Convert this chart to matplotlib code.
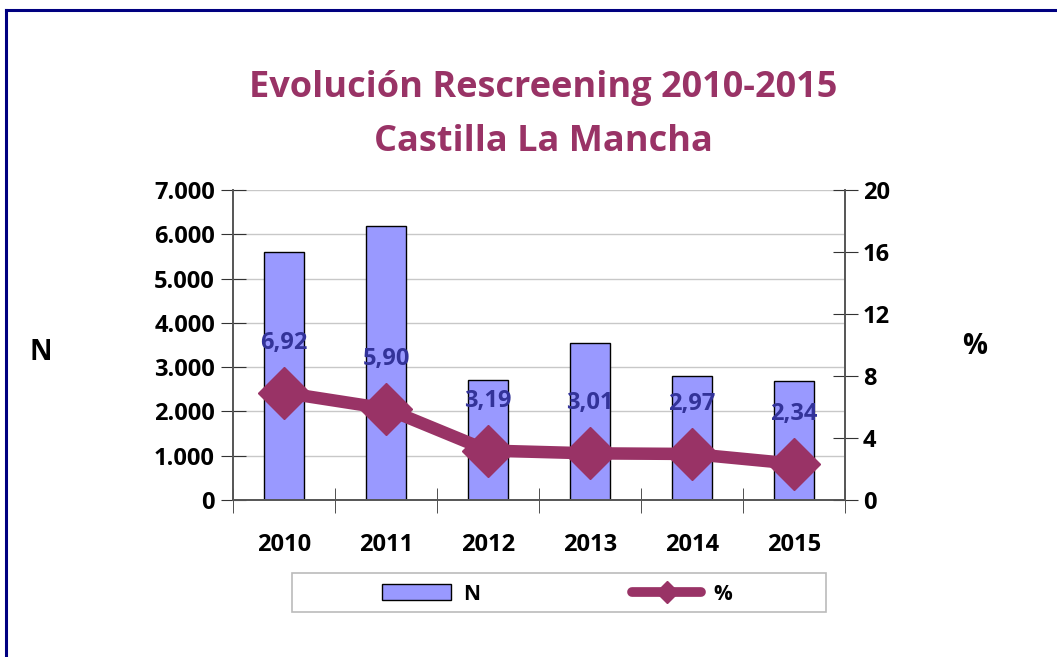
import numpy as np
import matplotlib
matplotlib.use("Agg")
import matplotlib.pyplot as plt
from matplotlib.ticker import FuncFormatter
from matplotlib.lines import Line2D
from matplotlib.patches import Rectangle

years = ["2010", "2011", "2012", "2013", "2014", "2015"]
n_values = [5600, 6190, 2710, 3550, 2800, 2690]
pct_values = [6.92, 5.90, 3.19, 3.01, 2.97, 2.34]
pct_labels = ["6,92", "5,90", "3,19", "3,01", "2,97", "2,34"]

plt.rcParams['font.family'] = ['Open Sans', 'DejaVu Sans']
plt.rcParams['font.weight'] = 'bold'

bar_color = '#9999FF'
line_color = '#993366'
label_color = '#333399'

W, H = 1057, 657
fig = plt.figure(figsize=(W / 100, H / 100), dpi=100)
ax = fig.add_axes([233 / W, 1 - 500 / H, 612 / W, 310 / H])
ax2 = ax.twinx()

x = np.arange(len(years))
ax.bar(x, n_values, width=0.4, color=bar_color, edgecolor='black', linewidth=1, zorder=2)
ax.set_xlim(-0.5, len(years) - 0.5)
ax.set_ylim(0, 7000)
ax.set_yticks(np.arange(0, 7001, 1000))
ax.yaxis.set_major_formatter(FuncFormatter(lambda v, p: f"{int(v):,}".replace(",", ".")))
ax.grid(axis='y', color='#C8C8C8', linewidth=1, zorder=0)
ax.set_axisbelow(True)

ax.set_xticks(x)
ax.set_xticklabels(years, fontsize=17, fontweight='bold')
ax.set_xticks(np.arange(-0.5, len(years), 1), minor=True)
ax.tick_params(axis='x', which='major', length=0, pad=24)
ax.tick_params(axis='x', which='minor', direction='inout', length=18, color='#333333')
ax.tick_params(axis='y', direction='inout', length=18, labelsize=17, color='#333333', pad=4)
for lab in ax.get_yticklabels():
    lab.set_fontweight('bold')

ax2.plot(x, pct_values, color=line_color, linewidth=9, marker='D', markersize=26,
         solid_capstyle='round', zorder=3)
ax2.set_ylim(0, 20)
ax2.set_yticks(np.arange(0, 21, 4))
ax2.tick_params(axis='y', direction='inout', length=18, labelsize=17, color='#333333', pad=4)
for lab in ax2.get_yticklabels():
    lab.set_fontweight('bold')
for xi, v, t in zip(x, pct_values, pct_labels):
    ax2.annotate(t, (xi, v), xytext=(0, 50), textcoords='offset pixels',
                 ha='center', va='center', fontsize=17, fontweight='bold', color=label_color)

for a in (ax, ax2):
    a.spines['top'].set_visible(False)
    for s in ('left', 'right', 'bottom'):
        a.spines[s].set_color('#555555')
        a.spines[s].set_linewidth(1.2)

fig.text(543 / W, 1 - 88 / H, "Evolución Rescreening 2010-2015", ha='center', va='center',
         fontsize=26, fontweight='bold', color=line_color)
fig.text(543 / W, 1 - 142 / H, "Castilla La Mancha", ha='center', va='center',
         fontsize=26, fontweight='bold', color=line_color)

fig.text(41 / W, 1 - 353 / H, "N", ha='center', va='center', fontsize=20, fontweight='bold')
fig.text(975 / W, 1 - 346 / H, "%", ha='center', va='center', fontsize=20, fontweight='bold')

# leyenda con marco dibujado aparte
fig.add_artist(Rectangle((292 / W, 1 - 612 / H), 534 / W, 39 / H, transform=fig.transFigure,
                         facecolor='white', edgecolor='#BBBBBB', linewidth=1.2))
handles = [Rectangle((0, 0), 1, 1, facecolor=bar_color, edgecolor='black', linewidth=1),
           Line2D([0], [0], color=line_color, linewidth=7, marker='D', markersize=11,
                  solid_capstyle='round')]
leg = fig.legend(handles, ["N", "%"], loc='center', bbox_to_anchor=(557 / W, 1 - 594 / H),
                 ncol=2, frameon=False, columnspacing=7.3,
                 handlelength=3.3, handleheight=0.8, handletextpad=0.6, borderpad=0,
                 prop={'weight': 'bold', 'size': 15})

# marco azul de la figura
fig.add_artist(Line2D([6 / W, 6 / W], [0, 1 - 10 / H], color='#000080', linewidth=2.2,
                      transform=fig.transFigure))
fig.add_artist(Line2D([6 / W, 1], [1 - 10 / H, 1 - 10 / H], color='#000080', linewidth=2.2,
                      transform=fig.transFigure))

fig.savefig("out.png", dpi=100)
